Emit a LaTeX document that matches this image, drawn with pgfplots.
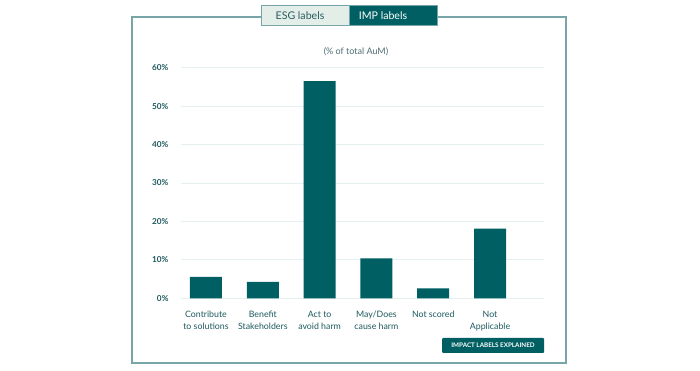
\documentclass[border=0pt]{standalone}
\usepackage{pgfplots}
\pgfplotsset{compat=1.18}
\usepackage{fontspec}
\setmainfont{Lato}
\definecolor{teal1}{RGB}{0,95,99}
\definecolor{frame}{RGB}{120,165,168}
\definecolor{tablight}{RGB}{227,238,233}
\definecolor{tabtext}{RGB}{40,90,95}
\definecolor{gridc}{RGB}{230,240,239}
\definecolor{ticktext}{RGB}{30,90,95}
\definecolor{titletext}{RGB}{80,110,115}
\begin{document}
\begin{tikzpicture}[x=1pt,y=1pt]
\fill[white] (0,0) rectangle (700,371);
\useasboundingbox (0,0) rectangle (700,371);
% frame
\draw[frame, line width=1.3pt] (261,354) -- (132,354) -- (132,8) -- (566,8) -- (566,354) -- (437,354);
% tabs
\draw[frame, line width=1pt, fill=tablight] (261,345) rectangle (349,365);
\draw[frame, line width=1pt, fill=teal1] (349,345) rectangle (437,365);
\node[text=tabtext, font=\fontsize{10.6}{12}\selectfont] at (300,355) {ESG labels};
\node[text=white, font=\fontsize{10.6}{12}\selectfont] at (383,355) {IMP labels};
% title
\node[text=titletext, font=\fontsize{9}{11}\selectfont] at (356,319) {(\% of total AuM)};
% button
\fill[teal1, rounded corners=1pt] (442,18) rectangle (544,33);
\node[text=white, font=\fontsize{6.3}{7}\selectfont\bfseries] at (493,25.5) {IMPACT LABELS EXPLAINED};
\begin{axis}[
  at={(181pt,72.7pt)}, anchor=south west,
  scale only axis, width=363pt, height=230.6pt,
  xmin=-0.44, xmax=5.95, ymin=0, ymax=60,
  axis line style={draw=none},
  ytick={0,10,...,60},
  yticklabel={\pgfmathprintnumber{\tick}\%},
  /pgf/number format/assume math mode=true,
  ymajorgrids, major grid style={gridc, line width=0.8pt},
  major tick length=0pt,
  yticklabel style={font=\fontsize{8.2}{9}\selectfont\bfseries, text=ticktext, xshift=-9pt},
  xtick=data,
  xticklabels={{Contribute\\to solutions},{Benefit\\Stakeholders},{Act to\\avoid harm},{May/Does\\cause harm},{Not scored},{Not\\Applicable}},
  xticklabel style={font=\fontsize{8.8}{12.5}\selectfont, text=ticktext, align=center, anchor=north, yshift=-9pt},
  enlargelimits=false,
  clip=false,
]
\addplot[ybar, bar width=32pt, fill=teal1, draw=none] coordinates {
(0,5.6) (1,4.3) (2,56.5) (3,10.4) (4,2.6) (5,18.1)
};
\end{axis}
\end{tikzpicture}
\end{document}
